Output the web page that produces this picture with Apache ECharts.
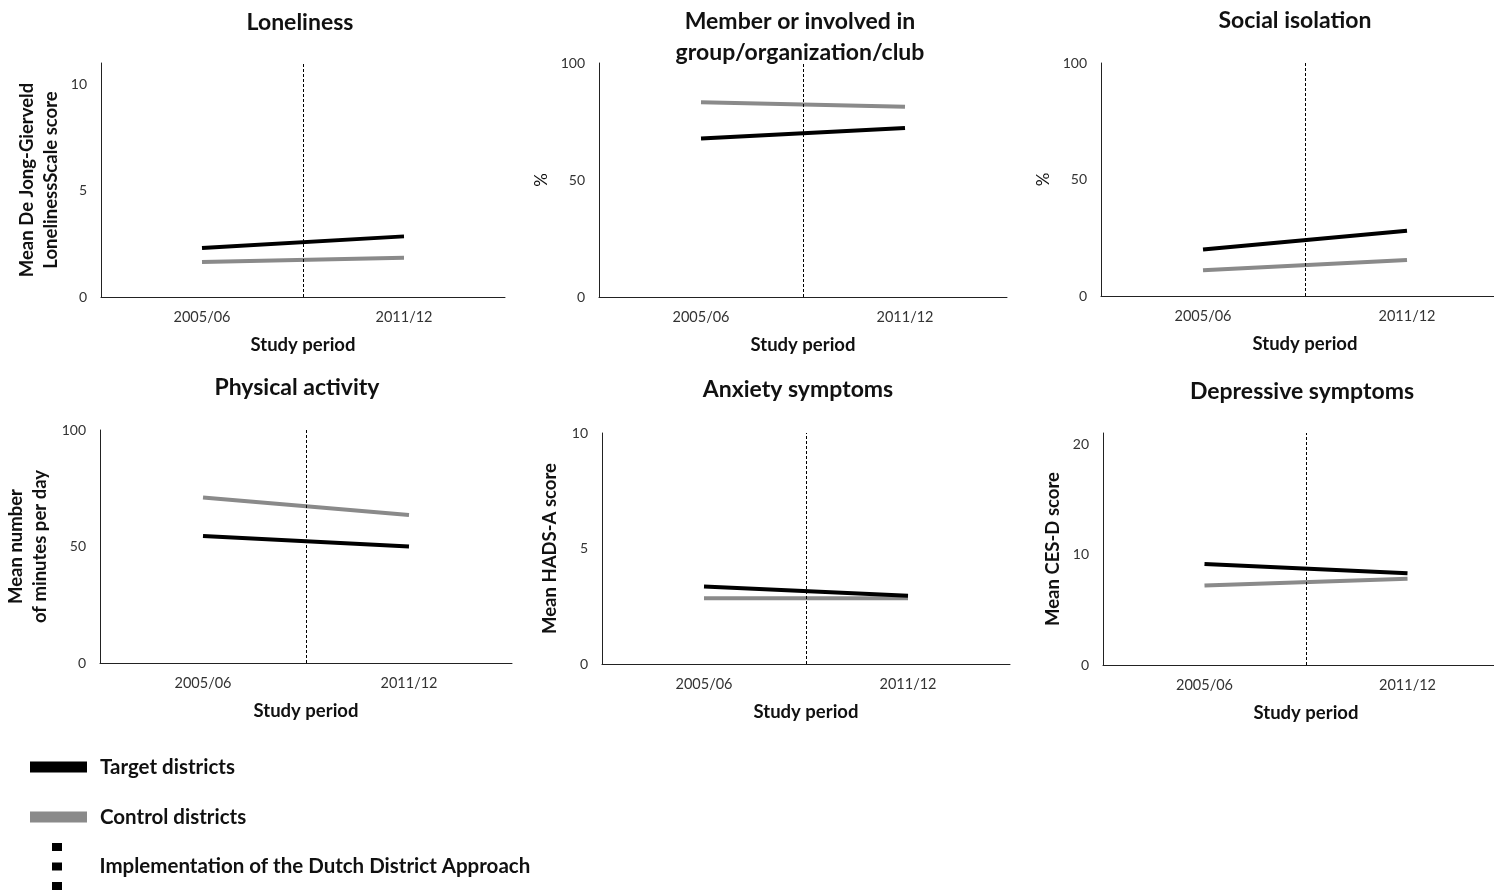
<!DOCTYPE html>
<html>
<head>
<meta charset="utf-8">
<script src="https://cdn.jsdelivr.net/npm/echarts@6/dist/echarts.min.js"></script>
<style>
html,body{margin:0;padding:0;background:#fff;}
#chart{width:1494px;height:890px;}
</style>
</head>
<body>
<div id="chart"></div>
<script>
// ---- data ----
const periods = ['2005/06', '2011/12'];
const panelTitles = ['Loneliness', 'Member or involved in\ngroup/organization/club', 'Social isolation',
  'Physical activity', 'Anxiety symptoms', 'Depressive symptoms'];
const yAxisNames = ['Mean De Jong-Gierveld\nLonelinessScale score', '%', '%',
  'Mean number\nof minutes per day', 'Mean HADS-A score', 'Mean CES-D score'];
const yMax = [11, 100, 100, 100, 10, 21];
const yStep = [5, 50, 50, 50, 5, 10];
const targetDistricts = [[2.3, 2.85], [67.7, 72.2], [20, 28], [54.5, 50], [3.35, 2.95], [9.15, 8.3]];
const controlDistricts = [[1.65, 1.85], [83.2, 81.3], [11, 15.5], [71, 63.5], [2.85, 2.85], [7.2, 7.8]];
const implementationAt = 0.5; // between the two study periods
const legendNames = ['Target districts', 'Control districts', 'Implementation of the Dutch District Approach'];

// ---- layout ----
const grids = [
  {left: 101, top: 63, width: 404, height: 234},
  {left: 599, top: 63, width: 408, height: 234},
  {left: 1101, top: 63, width: 408, height: 233},
  {left: 100, top: 430, width: 412, height: 233},
  {left: 602, top: 433, width: 408, height: 231},
  {left: 1103, top: 433, width: 406, height: 232}
].map(g => Object.assign(g, {outerBoundsMode: 'none', containLabel: false}));
const titlePos = [[300, 7.5], [800, 6.5], [1295, 5.5], [297, 372.5], [798, 374.5], [1302, 376.5]];
const yNameGap = [38, 45, 45, 48, 40, 38];
const yNameBold = [true, false, false, true, true, true];

const FONT = 'Lato';
const option = {
  animation: false,
  backgroundColor: '#fff',
  title: panelTitles.map((t, i) => ({
    text: t, left: titlePos[i][0], top: titlePos[i][1], textAlign: 'center', padding: 0,
    textStyle: {fontFamily: FONT, fontSize: 23, fontWeight: 'bold', color: '#111', lineHeight: 31}
  })),
  grid: grids,
  xAxis: grids.map((g, i) => ({
    type: 'value', gridIndex: i, min: -0.5, max: 1.5, interval: 0.5,
    axisLine: {show: true, onZero: false, lineStyle: {color: '#222', width: 1}},
    axisTick: {show: false}, splitLine: {show: false},
    axisLabel: {margin: 13, fontFamily: FONT, fontSize: 14.5, color: '#333',
      formatter: v => (Number.isInteger(v) && periods[v]) ? periods[v] : ''},
    name: 'Study period', nameLocation: 'middle', nameGap: 39,
    nameTextStyle: {fontFamily: FONT, fontSize: 18.5, fontWeight: 'bold', color: '#111'}
  })),
  yAxis: grids.map((g, i) => ({
    type: 'value', gridIndex: i, min: 0, max: yMax[i], interval: yStep[i],
    axisLine: {show: true, onZero: false, lineStyle: {color: '#222', width: 1}},
    axisTick: {show: false}, splitLine: {show: false},
    axisLabel: {margin: 14, fontFamily: FONT, fontSize: 14, color: '#333',
      formatter: v => (v % yStep[i] === 0) ? String(v) : ''},
    name: yAxisNames[i], nameLocation: 'middle', nameRotate: 90, nameGap: yNameGap[i],
    nameTextStyle: {fontFamily: FONT, fontSize: yNameBold[i] ? 18.5 : 17, fontWeight: yNameBold[i] ? 'bold' : 'normal',
      color: '#111', lineHeight: 24}
  })),
  legend: [
    {
      left: 30, top: 755, padding: 0, orient: 'vertical', itemGap: 26, itemWidth: 57, itemHeight: 11,
      data: [{name: legendNames[0], icon: 'rect'}, {name: legendNames[1], icon: 'rect'}],
      textStyle: {fontFamily: FONT, fontSize: 20.5, fontWeight: 'bold', color: '#111', lineHeight: 24, padding: [0, 0, 0, 8]}
    },
    {
      left: 52, top: 843, padding: 0, orient: 'vertical', itemWidth: 11, itemHeight: 47,
      data: [{name: legendNames[2], icon: 'path://M0,0h10v8h-10z M0,19.5h10v8h-10z M0,39h10v8h-10z'}],
      textStyle: {fontFamily: FONT, fontSize: 20.5, fontWeight: 'bold', color: '#111', padding: [0, 0, 0, 32]}
    }
  ],
  series: []
};

grids.forEach((g, i) => {
  option.series.push({
    name: legendNames[1], type: 'line', xAxisIndex: i, yAxisIndex: i,
    data: controlDistricts[i].map((v, k) => [k, v]), symbol: 'none',
    lineStyle: {color: '#8a8a8a', width: 4}, itemStyle: {color: '#8a8a8a'}, z: 2
  });
  option.series.push({
    name: legendNames[0], type: 'line', xAxisIndex: i, yAxisIndex: i,
    data: targetDistricts[i].map((v, k) => [k, v]), symbol: 'none',
    lineStyle: {color: '#000', width: 4}, itemStyle: {color: '#000'}, z: 3
  });
  option.series.push({
    name: legendNames[2], type: 'line', xAxisIndex: i, yAxisIndex: i,
    data: [], symbol: 'none', itemStyle: {color: '#000'}, lineStyle: {color: '#000'}, z: 4,
    markLine: {
      silent: true, symbol: 'none', label: {show: false},
      lineStyle: {color: '#000', width: 1, type: [3, 2]},
      data: [{xAxis: implementationAt}]
    }
  });
});

const chart = echarts.init(document.getElementById('chart'), null, {renderer: 'canvas'});
chart.setOption(option);
</script>
</body>
</html>
